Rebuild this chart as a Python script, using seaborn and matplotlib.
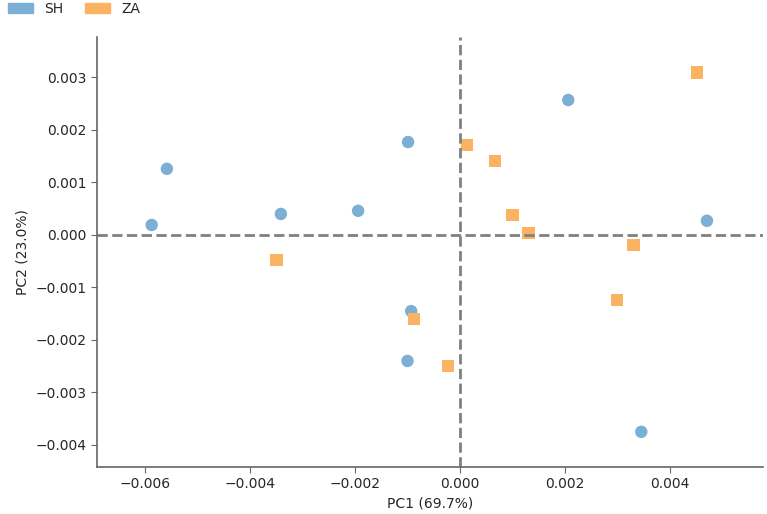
import pandas as pd
import matplotlib.pyplot as plt
import seaborn as sns
from matplotlib.patches import Patch

sns.set_style('white')

# PCA coordinates
sh_pc1 = [-0.00587, -0.00558, -0.00341, -0.00194, -0.00099, 0.00206, 0.00470, -0.00093, -0.00100, 0.00345]
sh_pc2 = [0.00019, 0.00126, 0.00040, 0.00046, 0.00177, 0.00257, 0.00027, -0.00145, -0.00240, -0.00375]
za_pc1 = [0.00013, 0.00067, 0.00100, 0.00130, 0.00451, 0.00330, 0.00299, -0.00349, -0.00088, -0.00023]
za_pc2 = [0.00171, 0.00141, 0.00038, 0.00004, 0.00309, -0.00019, -0.00124, -0.00048, -0.00160, -0.00250]
groups = ['SH', 'ZA']
colors = {'SH': '#7bafd4', 'ZA': '#fbb262'}

df = pd.DataFrame({
    'PC1': sh_pc1 + za_pc1,
    'PC2': sh_pc2 + za_pc2,
    'group': ['SH'] * len(sh_pc1) + ['ZA'] * len(za_pc1),
})

fig = plt.figure(figsize=(7.67, 5.14), dpi=100)
ax = fig.add_axes([0.1265, 0.0914, 0.8685, 0.8366])

sns.scatterplot(data=df, x='PC1', y='PC2', hue='group', style='group',
                markers={'SH': 'o', 'ZA': 's'}, palette=colors, s=80,
                edgecolor='none', legend=False, ax=ax)

ax.axhline(0, color='gray', linestyle='--', linewidth=2)
ax.axvline(0, color='gray', linestyle='--', linewidth=2)

ax.set_xlim(-0.00691, 0.00577)
ax.set_ylim(-0.00442, 0.00377)
ax.set_xticks([-0.006, -0.004, -0.002, 0.0, 0.002, 0.004])
ax.set_yticks([-0.004, -0.003, -0.002, -0.001, 0.0, 0.001, 0.002, 0.003])
ax.set_xlabel('PC1 (69.7%)')
ax.set_ylabel('PC2 (23.0%)')

sns.despine(ax=ax)
for sp in ['left', 'bottom']:
    ax.spines[sp].set_color('#666666')
    ax.spines[sp].set_linewidth(1.2)
ax.tick_params(axis='both', length=4, color='#666666', left=True, bottom=True)

handles = [Patch(color=colors[g], label=g) for g in groups]
fig.legend(handles=handles, loc='upper left', bbox_to_anchor=(-0.006, 1.02),
           ncol=2, frameon=False, handlelength=1.8, handletextpad=0.8,
           columnspacing=1.6)

plt.savefig('out.png', dpi=100)
plt.close()
